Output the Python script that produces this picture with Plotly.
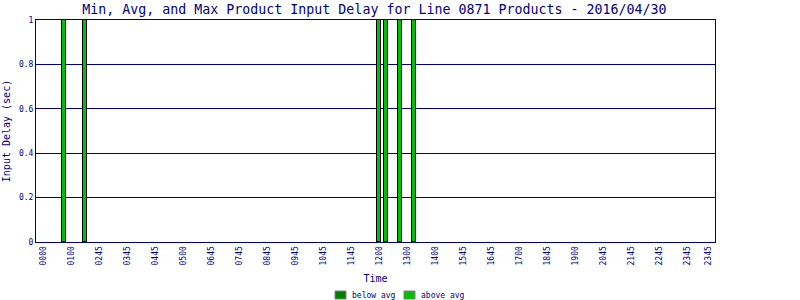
import plotly.graph_objects as go

# ---- data ----
tick_slots = [0, 4, 8, 12, 16, 20, 24, 28, 32, 36, 40, 44, 48, 52, 56, 60, 64, 68, 72, 76, 80, 84, 88, 92, 95]
tick_labels = ["0000", "0100", "0245", "0345", "0445", "0500", "0645", "0745", "0845", "0945",
               "1045", "1145", "1200", "1300", "1400", "1545", "1645", "1700", "1845", "1900",
               "2045", "2145", "2245", "2345", "2345"]
bar_slots = [3, 6, 48, 49, 51, 53]
below_avg = [0, 0, 0, 0, 0, 0]
above_avg = [1, 1, 1, 1, 1, 1]
y_ticks = [0, 0.2, 0.4, 0.6, 0.8, 1]
y_tick_labels = ["0", "0.2", "0.4", "0.6", "0.8", "1"]
series_names = ["below avg", "above avg"]
series_colors = ["#008000", "#00c000"]

NAVY = "#000080"
FONT = "DejaVu Sans Mono"

# plot-area geometry (pixels)
L, R, T, B = 36, 715, 20, 242
W, H = 800, 300


def px_x(px):
    return (px - L) / (R - L)


def px_y(py):
    return (B - py) / (B - T)


fig = go.Figure()
for name, vals, col in zip(series_names, [below_avg, above_avg], series_colors):
    fig.add_trace(go.Bar(x=bar_slots, y=vals, name=name, width=0.66, showlegend=False,
                         marker=dict(color=col, line=dict(color="black", width=1))))

# legend drawn as swatches + labels below the axis title
legend_x = [335, 404]
shapes = []
annotations = []
for lx, name, col in zip(legend_x, series_names, series_colors):
    shapes.append(dict(type="rect", xref="paper", yref="paper",
                       x0=px_x(lx), x1=px_x(lx + 11), y0=px_y(299), y1=px_y(291),
                       fillcolor=col, line=dict(color="#808080", width=1)))
    annotations.append(dict(text=name, xref="paper", yref="paper", x=px_x(lx + 15), y=px_y(295),
                            xanchor="left", yanchor="middle", showarrow=False,
                            font=dict(family=FONT, size=8, color=NAVY)))

fig.update_layout(
    barmode="stack",
    width=W, height=H,
    margin=dict(l=L, r=W - R, t=T, b=H - B),
    paper_bgcolor="white", plot_bgcolor="white",
    font=dict(family=FONT, color=NAVY, size=8),
    title=dict(text="Min, Avg, and Max Product Input Delay for Line 0871 Products - 2016/04/30",
               font=dict(family=FONT, size=13.3, color=NAVY),
               x=0.468, xanchor="center", y=0.97, yanchor="middle", yref="container"),
    showlegend=False,
    shapes=shapes,
    annotations=annotations,
    bargap=0,
)
fig.update_xaxes(
    range=[-1, 96], tickmode="array", tickvals=tick_slots, ticktext=tick_labels,
    tickangle=-90, tickfont=dict(family=FONT, size=8, color=NAVY), automargin=False,
    showgrid=False, zeroline=False, showline=True, linecolor=NAVY, linewidth=1, mirror=True,
    ticks="", title=dict(text="Time", font=dict(family=FONT, size=10, color=NAVY), standoff=10),
)
fig.update_yaxes(
    range=[0, 1], tickmode="array", tickvals=y_ticks, ticktext=y_tick_labels,
    tickfont=dict(family=FONT, size=8, color=NAVY), automargin=False,
    showgrid=True, gridcolor=NAVY, gridwidth=1, zeroline=False,
    showline=True, linecolor=NAVY, linewidth=1, mirror=True, ticks="",
    title=dict(text="Input Delay (sec)", font=dict(family=FONT, size=10, color=NAVY), standoff=6),
)

fig.write_html("out.html")
